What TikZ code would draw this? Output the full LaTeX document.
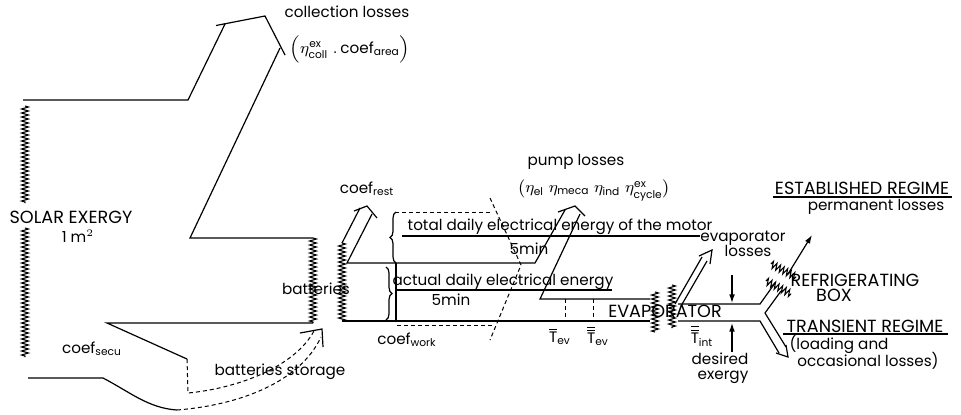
\documentclass[tikz,border=0pt]{standalone}
\usepackage{amsmath}
\usepackage{fontspec}
\setmainfont{Poppins}
\usetikzlibrary{arrows.meta,decorations.pathmorphing,decorations.pathreplacing}
\tikzset{edge/.style={line width=0.6pt},
  wall/.style={line width=0.55pt,decorate,decoration={zigzag,segment length=2pt,amplitude=1.7pt}},
  trace/.style={line width=0.5pt,dash pattern=on 2pt off 1.5pt},
  brc/.style={line width=0.6pt,decorate,decoration={brace,amplitude=3pt}},
  lbl/.style={font=\fontsize{7.6}{8.6}\selectfont,inner sep=0pt,align=center},
  biglbl/.style={font=\fontsize{8.8}{9.8}\selectfont,inner sep=0pt,align=center},
  arrow/.style={-{Latex[length=1.5mm,width=1mm]},line width=0.6pt}}

\begin{document}
\begin{tikzpicture}[x=0.5pt,y=-0.5pt]
\useasboundingbox (0,0) rectangle (961,414);
% solar exergy and collection losses
\draw[wall] (25,106)--(25,203);
\draw[wall] (25,228)--(25,357);
\node[biglbl] (solar) at (71,217) {SOLAR EXERGY};
\node[lbl] (area) at (78,236) {1 m$^2$};
\draw[edge] (23,100)--(188,100)--(225,24);
\draw[edge] (216,25.5)--(265,16)--(285,55);
\draw[edge] (280,48)--(190,238)--(313,238);
\node[lbl] (coll) at (347,12) {collection losses};
\node[lbl] (collpar) at (350,49) {$\Bigl(\eta^{\text{ex}}_{\text{coll}}\;.\,\text{coef}_{\text{area}}\Bigr)$};
% batteries storage loop
\draw[edge] (313,323)--(107,323)--(187,359);
\draw[trace] (187,359)--(188,393) .. controls (240,388) and (295,366) .. (314,331);
\draw[edge] (28,378)--(103,378) .. controls (130,392) and (148,408) .. (177,410);
\draw[trace] (177,410) .. controls (240,405) and (300,382) .. (321,337);
\draw[edge] (300,333)--(322,329)--(323,347);
\node[lbl] (secu) at (92,349) {coef$_{\text{secu}}$};
\node[lbl] (storage) at (280,372) {batteries storage};
% batteries
\draw[wall] (313,238)--(313,323);
\draw[wall] (342,243)--(342,321);
\node[lbl] (batt) at (316,289) {batteries};
\draw[edge] (342,243)--(360,208);
\draw[edge] (354,211)--(367,206)--(377,218);
\node[lbl] (rest) at (367,189) {coef$_{\text{rest}}$};
% motor energy and pump losses
\draw[edge] (372,214)--(347,263)--(535,263)--(565,210);
\draw[edge] (558,212)--(575,206)--(585,216);
\draw[edge] (580,214)--(540,299)--(650,299);
\draw[edge] (342,321)--(650,321);
\node[lbl] (pump) at (576,162) {pump losses};
\node[lbl] (pumppar) at (594,190) {$\bigl(\eta_{\text{el}}\;\eta_{\text{meca}}\;\eta_{\text{ind}}\;\eta^{\text{ex}}_{\text{cycle}}\bigr)$};
\draw[trace] (395,212)--(493,212);
\draw[trace] (490,198)--(521,265)--(490,340);
\draw[trace] (397,325)--(494,325);
\draw[brc] (396,263)--(396,212);
\draw[edge] (396,263)--(396,321);
\draw[brc] (386,267)--(386,320);
\node[lbl] (total) at (560,227) {total daily electrical energy of the motor};
\draw[edge] (402,236)--(700,236);
\node[lbl] (tmin) at (529,249) {5min};
\node[lbl] (actual) at (503,282) {actual daily electrical energy};
\draw[edge] (397,290)--(612,290);
\node[lbl] (amin) at (451,300) {5min};
\node[lbl] (work) at (407,340) {coef$_{\text{work}}$};
% evaporator
\draw[trace] (565,299)--(565,321) (593,299)--(593,321);
\node[lbl] (tev) at (560,336) {$\overline{\text{T}}_{\text{ev}}$};
\node[lbl] (tevv) at (598,336) {$\overline{\overline{\text{T}}}_{\text{ev}}$};
\draw[wall] (655,292)--(655,332);
\draw[wall] (672,285)--(672,328);
\node[biglbl] (evap) at (665,311) {EVAPORATOR};
\draw[edge] (675,304)--(702,257) (681,306)--(707,261);
\draw[edge] (699,256)--(712,250)--(710,264);
\node[lbl] (evloss) at (743,238) {evaporator};
\node[lbl] (evloss2) at (748,251) {losses};
\draw[edge] (678,304)--(760,304)--(775,283);
\draw[edge] (678,321)--(760,321)--(779,353);
\draw[edge] (781,291)--(765,313)--(786,347);
\draw[edge] (776,353)--(788,357)--(786,345);
\draw[arrow] (732,275)--(732,303);
\draw[arrow] (732,352)--(732,323);
\node[lbl] (tint) at (702,336) {$\overline{\overline{\text{T}}}_{\text{int}}$};
\node[lbl] (desired) at (720,359) {desired};
\node[lbl] (exergy) at (723,377) {exergy};
% refrigerating box
\draw[wall] (771,264)--(796,277);
\draw[wall] (766,281)--(791,294);
\draw[arrow] (788,274)--(812,235);
\node[biglbl] (box) at (855,280) {REFRIGERATING};
\node[biglbl] (box2) at (834,295) {BOX};
\node[biglbl] (est) at (862,188) {ESTABLISHED REGIME};
\draw[edge] (773,197)--(952,197);
\node[lbl] (perm) at (876,207) {permanent losses};
\node[biglbl] (trans) at (865,326) {TRANSIENT REGIME};
\draw[edge] (783,334)--(948,334);
\node[lbl] (load) at (839,344) {(loading and};
\node[lbl] (occ) at (868,361) {occasional losses)};
\end{tikzpicture}
\end{document}
